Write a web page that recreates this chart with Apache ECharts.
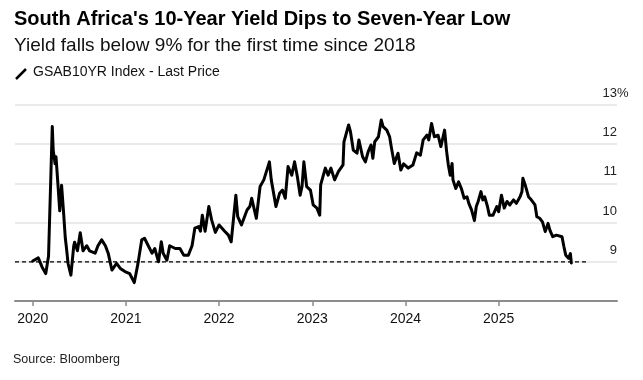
<!DOCTYPE html>
<html>
<head>
<meta charset="utf-8">
<script src="https://cdn.jsdelivr.net/npm/echarts@6/dist/echarts.min.js"></script>
<style>html,body{margin:0;padding:0;background:#fff}#c{width:643px;height:380px}</style>
</head>
<body>
<div id="c"></div>
<script>
// Time positions as decimal years
const years = [
2020.00,2020.06,2020.10,2020.14,2020.17,2020.19,2020.21,2020.22,2020.24,2020.25,2020.27,2020.29,2020.31,2020.33,2020.35,2020.36,2020.38,2020.41,2020.44,2020.45,
2020.48,2020.51,2020.54,2020.58,2020.61,2020.67,2020.70,2020.74,2020.78,2020.81,2020.85,2020.90,2020.94,2020.99,2021.04,2021.09,2021.13,2021.17,2021.20,2021.24,
2021.28,2021.31,2021.35,2021.38,2021.40,2021.44,2021.47,2021.53,2021.58,2021.62,2021.67,2021.71,2021.74,2021.78,2021.80,2021.82,2021.85,2021.89,2021.92,2021.96,
2022.00,2022.06,2022.10,2022.13,2022.18,2022.20,2022.24,2022.30,2022.33,2022.35,2022.40,2022.44,2022.48,2022.54,2022.56,2022.61,2022.65,2022.68,2022.71,2022.74,
2022.78,2022.81,2022.84,2022.87,2022.89,2022.91,2022.94,2022.98,2023.01,2023.05,2023.08,2023.09,2023.14,2023.17,2023.20,2023.24,2023.28,2023.33,2023.34,2023.39,
2023.41,2023.44,2023.48,2023.50,2023.54,2023.57,2023.60,2023.63,2023.65,2023.67,2023.71,2023.74,2023.76,2023.80,2023.83,2023.85,2023.88,2023.92,2023.95,2023.98,
2024.03,2024.08,2024.12,2024.16,2024.19,2024.23,2024.25,2024.28,2024.31,2024.35,2024.38,2024.42,2024.44,2024.46,2024.48,2024.50,2024.51,2024.54,2024.57,2024.60,
2024.63,2024.66,2024.68,2024.71,2024.74,2024.76,2024.78,2024.81,2024.83,2024.85,2024.88,2024.90,2024.94,2024.98,2025.00,2025.03,2025.06,2025.09,2025.12,2025.16,
2025.19,2025.23,2025.25,2025.26,2025.29,2025.32,2025.35,2025.39,2025.41,2025.44,2025.47,2025.50,2025.53,2025.55,2025.58,2025.62,2025.68,2025.70,2025.72,2025.75,
2025.77,2025.78
];
// GSAB10YR Index - Last Price (%)
const yields = [
9.02,9.10,8.87,8.70,9.15,9.20,12.45,11.85,11.50,11.68,11.00,10.30,10.95,10.30,9.60,9.40,8.95,8.66,9.40,9.50,
9.28,9.74,9.28,9.41,9.28,9.22,9.41,9.56,9.41,9.22,8.79,8.96,8.83,8.75,8.70,8.47,8.96,9.56,9.60,9.41,
9.22,9.34,9.00,9.51,9.22,9.04,9.41,9.34,9.34,9.17,9.17,9.41,9.86,9.90,9.78,10.19,9.78,10.41,10.07,9.75,
9.94,9.78,9.68,9.51,10.70,10.15,9.94,10.32,10.41,10.62,10.11,10.92,11.09,11.55,11.09,10.41,10.75,10.83,10.62,11.43,
11.21,11.55,11.17,10.70,10.92,11.55,10.92,10.83,10.45,10.37,10.19,10.96,11.39,11.21,11.39,11.09,11.30,11.47,12.06,12.49,
12.32,11.85,11.77,12.11,11.68,11.55,11.81,11.98,11.64,12.06,12.19,12.62,12.45,12.36,12.19,11.90,11.51,11.77,11.34,11.50,
11.39,11.47,11.78,11.72,12.11,12.23,12.11,12.53,12.19,12.23,11.94,12.36,11.85,11.47,11.21,11.51,11.09,10.87,11.04,10.87,
10.62,10.66,10.49,10.32,10.05,10.41,10.54,10.79,10.58,10.66,10.41,10.19,10.19,10.41,10.28,10.70,10.37,10.54,10.45,10.58,
10.49,10.66,10.79,11.13,10.92,10.66,10.58,10.45,10.15,10.11,10.02,9.77,9.98,9.81,9.64,9.68,9.64,9.39,9.17,9.09,
9.21,8.97
];
const yearTicks = [2020, 2021, 2022, 2023, 2024, 2025];
const yTicks = [8, 9, 10, 11, 12, 13];
const refLevel = 9;
const refRange = [2019.81, 2025.96];

const xMin = 2019.81, xMax = 2026.27;
const FONT = '"Liberation Sans", Arial, sans-serif';

const chart = echarts.init(document.getElementById('c'), null, {renderer: 'canvas'});
const lineData = years.map((y, i) => [y, yields[i]]);

chart.setOption({
  backgroundColor: '#ffffff',
  animation: false,
  title: [
    {text: "South Africa's 10-Year Yield Dips to Seven-Year Low", left: 14, top: 9, padding: 0,
     textStyle: {fontFamily: FONT, fontSize: 20, fontWeight: 'bold', color: '#000'}},
    {text: 'Yield falls below 9% for the first time since 2018', left: 14, top: 36, padding: 0,
     textStyle: {fontFamily: FONT, fontSize: 19, fontWeight: 'normal', color: '#111'}},
    {text: 'GSAB10YR Index - Last Price', left: 33, top: 65, padding: 0,
     textStyle: {fontFamily: FONT, fontSize: 14, fontWeight: 'normal', color: '#111'}},
    {text: 'Source: Bloomberg', left: 13, top: 353, padding: 0,
     textStyle: {fontFamily: FONT, fontSize: 12.5, fontWeight: 'normal', color: '#222'}}
  ],
  graphic: [
    {type: 'line', shape: {x1: 16, y1: 79, x2: 26, y2: 69}, style: {stroke: '#000', lineWidth: 2.5, lineCap: 'butt'}},
    {type: 'text', left: 617, top: 87, style: {text: '%', font: '13px ' + FONT, fill: '#222'}}
  ],
  grid: {left: 15, right: 26, top: 105, bottom: 79, containLabel: false},
  xAxis: {
    type: 'value', min: xMin, max: xMax,
    splitLine: {show: false},
    axisLine: {show: true, lineStyle: {color: '#8c8c8c', width: 2}},
    axisTick: {show: true, length: 5, customValues: yearTicks, lineStyle: {color: '#8c8c8c', width: 1.5}},
    axisLabel: {customValues: yearTicks, margin: 11, fontFamily: FONT, fontSize: 14, color: '#111',
      formatter: v => String(Math.round(v))}
  },
  yAxis: {
    type: 'value', position: 'right', min: 8, max: 13, interval: 1,
    axisLine: {show: false}, axisTick: {show: false},
    splitLine: {show: true, lineStyle: {color: '#e3e3e3', width: 1.5}},
    axisLabel: {inside: true, margin: 0, fontFamily: FONT, fontSize: 13, color: '#222',
      verticalAlign: 'bottom', padding: [0, 0, 5, 0],
      formatter: v => (v === 8 ? '' : String(v))}
  },
  series: [
    {type: 'line', data: refRange.map(x => [x, refLevel]), symbol: 'none', silent: true,
     lineStyle: {color: '#000', width: 1.3, type: [4, 3]}, z: 2},
    {type: 'line', data: lineData, symbol: 'none', silent: true,
     lineStyle: {color: '#000', width: 3, join: 'round', cap: 'round'}, z: 3}
  ]
});
</script>
</body>
</html>
